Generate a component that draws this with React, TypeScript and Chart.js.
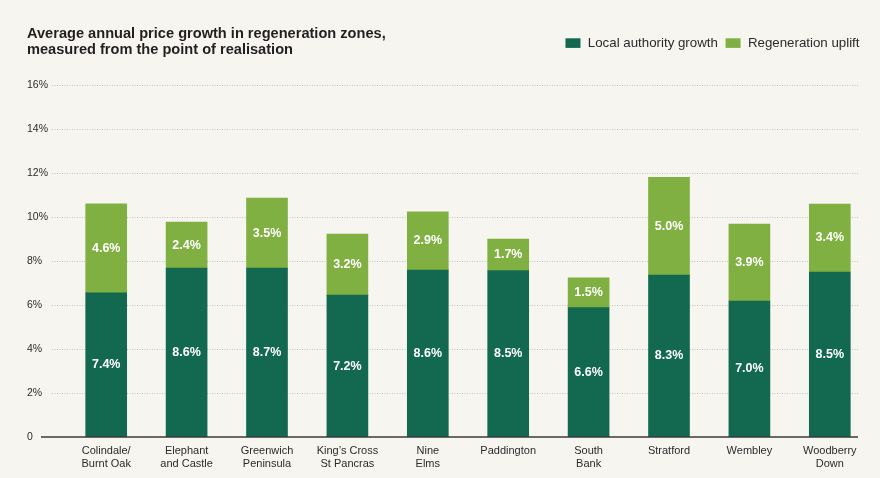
import React, { useEffect, useRef } from "react";
import { Chart, registerables } from "chart.js";

Chart.register(...registerables);

const FONT = "'Liberation Sans', Arial, Helvetica, sans-serif";

const categories: string[][] = [
  ["Colindale/", "Burnt Oak"],
  ["Elephant", "and Castle"],
  ["Greenwich", "Peninsula"],
  ["King’s Cross", "St Pancras"],
  ["Nine", "Elms"],
  ["Paddington"],
  ["South", "Bank"],
  ["Stratford"],
  ["Wembley"],
  ["Woodberry", "Down"],
];

// Segment heights as drawn in the picture (% on the axis)
const localGrowthHeights = [6.55, 7.68, 7.68, 6.45, 7.59, 7.56, 5.88, 7.36, 6.18, 7.5];
const upliftHeights = [4.05, 2.09, 3.18, 2.77, 2.64, 1.44, 1.35, 4.44, 3.5, 3.09];

// Value labels printed on the segments
const localGrowthLabels = ["7.4%", "8.6%", "8.7%", "7.2%", "8.6%", "8.5%", "6.6%", "8.3%", "7.0%", "8.5%"];
const upliftLabels = ["4.6%", "2.4%", "3.5%", "3.2%", "2.9%", "1.7%", "1.5%", "5.0%", "3.9%", "3.4%"];

const seriesNames = ["Local authority growth", "Regeneration uplift"];
const seriesColors = ["#136850", "#80b041"];

const titleLines = [
  "Average annual price growth in regeneration zones,",
  "measured from the point of realisation",
];

const yTicks = [0, 2, 4, 6, 8, 10, 12, 14, 16];

export default function App() {
  const ref = useRef<HTMLCanvasElement | null>(null);

  useEffect(() => {
    document.body.style.margin = "0";
    document.body.style.background = "#f7f5f0";
    const canvas = ref.current;
    if (!canvas) return;

    const decor = {
      id: "decor",
      beforeDatasetsDraw(chart: any) {
        const ctx = chart.ctx as CanvasRenderingContext2D;
        const y = chart.scales.y;
        ctx.save();
        ctx.strokeStyle = "#c4c2bd";
        ctx.lineWidth = 1;
        ctx.setLineDash([1, 1.5]);
        yTicks.forEach((t) => {
          if (t === 0) return;
          const py = Math.round(y.getPixelForValue(t)) + 0.5;
          ctx.beginPath();
          ctx.moveTo(52, py);
          ctx.lineTo(859, py);
          ctx.stroke();
        });
        ctx.restore();
      },
      afterDatasetsDraw(chart: any) {
        const ctx = chart.ctx as CanvasRenderingContext2D;
        const y = chart.scales.y;
        ctx.save();
        // value labels
        ctx.fillStyle = "#ffffff";
        ctx.font = `bold 12.5px ${FONT}`;
        ctx.textAlign = "center";
        ctx.textBaseline = "middle";
        const labelSets = [localGrowthLabels, upliftLabels];
        chart.data.datasets.forEach((_d: any, di: number) => {
          const meta = chart.getDatasetMeta(di);
          meta.data.forEach((bar: any, i: number) => {
            const cy = (bar.y + bar.base) / 2;
            ctx.fillText(labelSets[di][i], bar.x, cy);
          });
        });
        // baseline
        const py = y.getPixelForValue(0);
        ctx.strokeStyle = "#3a3a3a";
        ctx.lineWidth = 1.5;
        ctx.beginPath();
        ctx.moveTo(41, py);
        ctx.lineTo(858, py);
        ctx.stroke();
        ctx.restore();
      },
      afterDraw(chart: any) {
        const ctx = chart.ctx as CanvasRenderingContext2D;
        ctx.save();
        // title
        ctx.fillStyle = "#231f20";
        ctx.font = `bold 14.6px ${FONT}`;
        ctx.textAlign = "left";
        ctx.textBaseline = "alphabetic";
        ctx.fillText(titleLines[0], 27, 37.5);
        ctx.fillText(titleLines[1], 27, 53.5);
        // legend
        ctx.font = `13.3px ${FONT}`;
        ctx.textBaseline = "middle";
        let right = 859.5;
        for (let i = seriesNames.length - 1; i >= 0; i--) {
          const w = ctx.measureText(seriesNames[i]).width;
          const tx = right - w;
          ctx.fillStyle = "#2b2b2b";
          ctx.fillText(seriesNames[i], tx, 43.5);
          const bx = tx - 7.3 - 15;
          ctx.fillStyle = seriesColors[i];
          ctx.fillRect(bx, 38.3, 15, 9.6);
          right = bx - 7.7;
        }
        ctx.restore();
      },
    };

    const chart = new Chart(canvas, {
      type: "bar",
      data: {
        labels: categories,
        datasets: [
          {
            label: seriesNames[0],
            data: localGrowthHeights,
            backgroundColor: seriesColors[0],
            borderWidth: 0,
            barThickness: 41,
          },
          {
            label: seriesNames[1],
            data: upliftHeights,
            backgroundColor: seriesColors[1],
            borderWidth: 0,
            barThickness: 41,
          },
        ],
      },
      options: {
        animation: false,
        responsive: true,
        maintainAspectRatio: false,
        layout: { padding: { left: 27, right: 10, top: 85, bottom: 0 } },
        plugins: {
          legend: { display: false },
          title: { display: false },
          tooltip: { enabled: false },
        },
        scales: {
          x: {
            stacked: true,
            grid: { display: false, drawTicks: false },
            border: { display: false },
            ticks: {
              padding: 8,
              color: "#2b2b2b",
              font: { family: FONT, size: 11, lineHeight: 1.15 },
              maxRotation: 0,
              autoSkip: false,
            },
            afterFit: (s: any) => {
              s.height = 41;
            },
          },
          y: {
            stacked: true,
            min: 0,
            max: 16,
            grid: { display: false, drawTicks: false },
            border: { display: false },
            afterBuildTicks: (s: any) => {
              s.ticks = yTicks.map((v) => ({ value: v }));
            },
            ticks: {
              crossAlign: "far",
              color: "#2b2b2b",
              font: { family: FONT, size: 10.5 },
              callback: (v: any) => (Number(v) === 0 ? "0" : `${v}%`),
            },
            afterFit: (s: any) => {
              s.width = 39;
            },
          },
        },
      },
      plugins: [decor],
    });

    return () => chart.destroy();
  }, []);

  return (
    <div style={{ position: "relative", width: 880, height: 478, background: "#f7f5f0" }}>
      <canvas ref={ref} />
    </div>
  );
}
